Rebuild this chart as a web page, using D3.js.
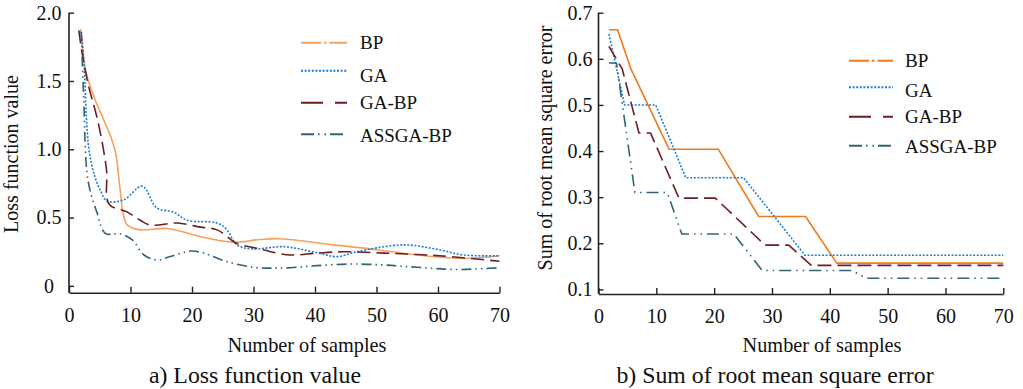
<!DOCTYPE html>
<html>
<head>
<meta charset="utf-8">
<script src="https://cdn.jsdelivr.net/npm/d3@7"></script>
<style>
  html, body { margin: 0; padding: 0; background: #fff; }
  svg { display: block; }
  text { font-family: "Liberation Serif", "Times New Roman", serif; fill: #111; }
</style>
</head>
<body>
<svg id="chart" width="1023" height="389"></svg>
<script>
// ---- series names ----
const seriesNames = ["BP", "GA", "GA-BP", "ASSGA-BP"];

// ---- panel a) loss function value (smoothed curves) ----
const lossBP_x = [1.9, 2.7, 4.0, 5.7, 6.8, 7.6, 8.0, 8.4, 8.8, 9.5, 11.6, 16, 21.4, 26.7, 31.1, 34.4, 43, 50, 56.6, 64.2, 70];
const lossBP_y = [1.88, 1.58, 1.39, 1.21, 1.09, 0.97, 0.83, 0.67, 0.53, 0.445, 0.41, 0.42, 0.36, 0.32, 0.34, 0.345, 0.30, 0.265, 0.226, 0.20, 0.22];

const lossGA_x = [2.0, 2.4, 2.9, 3.3, 4.2, 5.2, 6.2, 8.9, 11.9, 14.3, 17, 19.2, 24.1, 25.7, 27.3, 29.8, 34.9, 40.3, 43.6, 46.8, 54.4, 59.8, 64.2, 70];
const lossGA_y = [1.86, 1.66, 1.18, 0.98, 0.80, 0.69, 0.62, 0.63, 0.73, 0.57, 0.54, 0.48, 0.46, 0.41, 0.30, 0.27, 0.287, 0.243, 0.214, 0.25, 0.30, 0.268, 0.226, 0.22];

const lossGABP_x = [1.6, 2.15, 3.2, 4.4, 5.1, 6.1, 6.5, 9.5, 11.6, 13.2, 17.6, 21.4, 24.1, 25.7, 27.3, 30.6, 32.8, 36, 40.3, 44.7, 51.2, 56.6, 62, 70];
const lossGABP_y = [1.87, 1.70, 1.46, 1.26, 1.12, 0.85, 0.60, 0.54, 0.48, 0.445, 0.46, 0.43, 0.41, 0.36, 0.31, 0.275, 0.25, 0.226, 0.24, 0.25, 0.24, 0.23, 0.214, 0.18];

const lossASSGA_x = [2.0, 2.4, 3.1, 4.6, 5.9, 8.4, 10.3, 12.2, 14.3, 16.5, 19.7, 21.9, 25.7, 30, 32.7, 36, 40.3, 45.7, 51.2, 56.6, 63, 70];
const lossASSGA_y = [1.86, 1.36, 0.77, 0.53, 0.385, 0.38, 0.336, 0.226, 0.19, 0.215, 0.255, 0.24, 0.177, 0.136, 0.13, 0.133, 0.148, 0.16, 0.153, 0.136, 0.12, 0.133];

// ---- panel b) sum of root mean square error (polylines) ----
const rmseBP_x = [1.8, 3.3, 5.6, 12.2, 20.7, 27.7, 35.8, 41.2, 70];
const rmseBP_y = [0.663, 0.663, 0.578, 0.404, 0.404, 0.258, 0.258, 0.157, 0.157];

const rmseGA_x = [1.8, 4.5, 9.9, 15.1, 25.1, 35.7, 70];
const rmseGA_y = [0.654, 0.50, 0.50, 0.342, 0.342, 0.174, 0.174];

const rmseGABP_x = [1.8, 4.1, 7.0, 9.0, 13.9, 20.2, 28.8, 32.9, 36.8, 70];
const rmseGABP_y = [0.627, 0.578, 0.439, 0.439, 0.298, 0.298, 0.196, 0.196, 0.152, 0.152];

const rmseASSGA_x = [1.8, 3.1, 6.3, 11.9, 14.4, 23.4, 28.3, 43.8, 46.4, 70];
const rmseASSGA_y = [0.591, 0.591, 0.31, 0.31, 0.22, 0.22, 0.141, 0.141, 0.124, 0.124];

// ---- tick values and labels ----
const xTicks = [0, 10, 20, 30, 40, 50, 60, 70];
const lossYTicks = [0, 0.5, 1.0, 1.5, 2.0];
const lossYLabels = ["0", "0.5", "1.0", "1.5", "2.0"];
const rmseYTicks = [0.1, 0.2, 0.3, 0.4, 0.5, 0.6, 0.7];
const rmseYLabels = ["0.1", "0.2", "0.3", "0.4", "0.5", "0.6", "0.7"];

// ---- line styles per series ----
const styles = {
  a: [
    { color: "#F6A05C", dash: null,               legendDash: "20,3,2.5,3" },
    { color: "#1B7ED6", dash: "2,1.6",            legendDash: "2,1.6" },
    { color: "#6B1F25", dash: "13,6",             legendDash: "22,12" },
    { color: "#2F6577", dash: "10,4,1.5,4,1.5,4", legendDash: "13,4,1.5,5,1.5,4" }
  ],
  b: [
    { color: "#EF7B1D", dash: null,               legendDash: "20,3,2.5,3" },
    { color: "#1B7ED6", dash: "2,1.6",            legendDash: "2,1.6" },
    { color: "#6B1F25", dash: "14,6",             legendDash: "22,12" },
    { color: "#2F6577", dash: "12,5,1.5,5,1.5,5", legendDash: "13,4,1.5,5,1.5,4" }
  ]
};

const zip = (xs, ys) => xs.map((x, i) => [x, ys[i]]);

const svg = d3.select("#chart");

function drawPanel(cfg) {
  const g = svg.append("g");
  const x = d3.scaleLinear().domain([0, 70]).range(cfg.xRange);
  const y = d3.scaleLinear().domain(cfg.yDomain).range(cfg.yRange);

  // axes with inward ticks
  const xAxis = d3.axisBottom(x).tickValues(xTicks).tickSizeInner(-6).tickSizeOuter(0).tickPadding(15);
  const gx = g.append("g").attr("transform", `translate(0,${cfg.yRange[0]})`).call(xAxis);
  gx.selectAll("text").style("font-size", "20px");

  const yAxis = d3.axisLeft(y).tickValues(cfg.yTicks).tickFormat((d, i) => cfg.yLabels[i])
    .tickSizeInner(-5).tickSizeOuter(0).tickPadding(0);
  const gy = g.append("g").attr("transform", `translate(${cfg.xRange[0]},0)`).call(yAxis);
  gy.selectAll("text").style("font-size", "20px").attr("text-anchor", "middle")
    .attr("x", cfg.yLabelX - cfg.xRange[0]);

  [gx, gy].forEach(a => {
    a.select(".domain").attr("stroke", "#222").attr("stroke-width", 1.6);
    a.selectAll(".tick line").attr("stroke", "#222").attr("stroke-width", 1.4);
  });
  // y-axis line spans the whole plotted range up to the top tick
  gy.select(".domain").attr("d", `M0,${cfg.yRange[0]}V${y(cfg.yTicks[cfg.yTicks.length - 1])}`);

  // series lines
  const line = d3.line().x(d => x(d[0])).y(d => y(d[1])).curve(cfg.curve);
  cfg.series.forEach((pts, i) => {
    const st = cfg.styles[i];
    g.append("path").datum(pts)
      .attr("d", line)
      .attr("fill", "none")
      .attr("stroke", st.color)
      .attr("stroke-width", 1.6)
      .attr("stroke-dasharray", st.dash)
      .attr("stroke-linejoin", "round");
  });

  // legend
  seriesNames.forEach((name, i) => {
    const st = cfg.styles[i];
    const ly = cfg.legend.lineY[i];
    g.append("line")
      .attr("x1", cfg.legend.x1).attr("x2", cfg.legend.x2)
      .attr("y1", ly).attr("y2", ly)
      .attr("stroke", st.color).attr("stroke-width", 2)
      .attr("stroke-dasharray", st.legendDash);
    g.append("text")
      .attr("x", cfg.legend.tx).attr("y", cfg.legend.textY[i])
      .style("font-size", "19px")
      .text(name);
  });

  // axis titles and caption
  g.append("text")
    .attr("x", cfg.xTitleX).attr("y", 352)
    .attr("text-anchor", "middle").style("font-size", "20.3px")
    .text("Number of samples");
  g.append("text")
    .attr("transform", `translate(${cfg.yTitleX},${cfg.yTitleY}) rotate(-90)`)
    .attr("text-anchor", "middle").style("font-size", "20px")
    .text(cfg.yTitle);
  g.append("text")
    .attr("x", cfg.captionX).attr("y", 383)
    .attr("text-anchor", "middle").style("font-size", "23.8px")
    .text(cfg.caption);
}

drawPanel({
  xRange: [69, 499.5],
  yDomain: [-0.05, 2.0],
  yRange: [292.7, 12.7],
  yTicks: lossYTicks,
  yLabels: lossYLabels,
  yLabelX: 49,
  curve: d3.curveCatmullRom.alpha(0.5),
  series: [zip(lossBP_x, lossBP_y), zip(lossGA_x, lossGA_y), zip(lossGABP_x, lossGABP_y), zip(lossASSGA_x, lossASSGA_y)],
  styles: styles.a,
  legend: { x1: 301, x2: 347, tx: 360, lineY: [42.7, 70.7, 102.7, 134.3], textY: [49.3, 81.7, 109.3, 141.7] },
  xTitleX: 307,
  yTitleX: 18, yTitleY: 154,
  yTitle: "Loss function value",
  captionX: 255,
  caption: "a) Loss function value"
});

drawPanel({
  xRange: [598.5, 1003.3],
  yDomain: [0.09, 0.7],
  yRange: [294, 12.7],
  yTicks: rmseYTicks,
  yLabels: rmseYLabels,
  yLabelX: 580,
  curve: d3.curveLinear,
  series: [zip(rmseBP_x, rmseBP_y), zip(rmseGA_x, rmseGA_y), zip(rmseGABP_x, rmseGABP_y), zip(rmseASSGA_x, rmseASSGA_y)],
  styles: styles.b,
  legend: { x1: 849, x2: 893, tx: 905, lineY: [60.7, 87.3, 116.7, 145.7], textY: [66.7, 96.7, 123.3, 153.3] },
  xTitleX: 822,
  yTitleX: 552, yTitleY: 148,
  yTitle: "Sum of root mean square error",
  captionX: 775,
  caption: "b) Sum of root mean square error"
});
</script>
</body>
</html>
